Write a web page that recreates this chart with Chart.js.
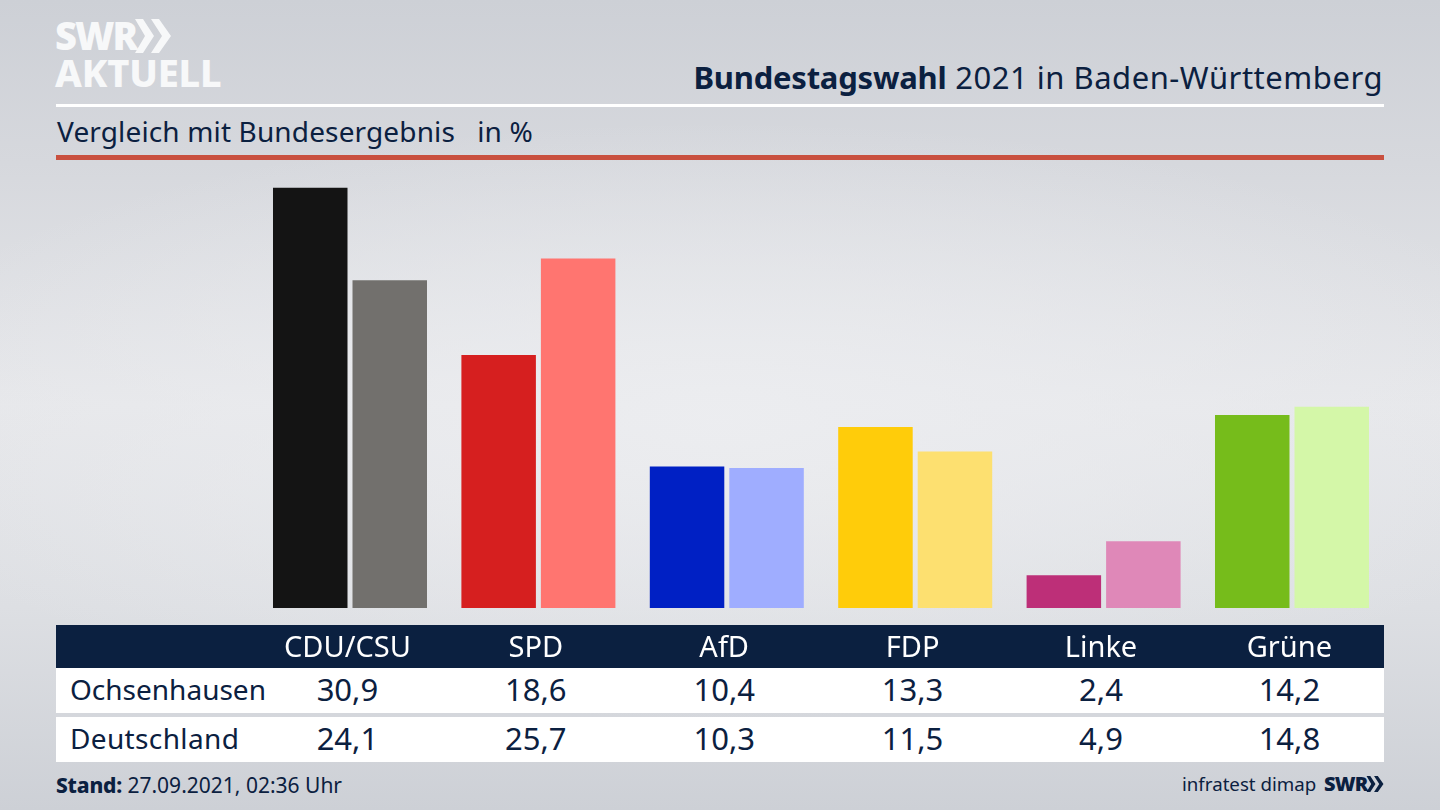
<!DOCTYPE html>
<html lang="de"><head><meta charset="utf-8"><title>Bundestagswahl 2021</title>
<script src="https://cdn.jsdelivr.net/npm/chart.js@4"></script>
<style>
html,body{margin:0;padding:0;width:1440px;height:810px;overflow:hidden}
body{position:relative;font-family:"Noto Sans",sans-serif;color:#0b2040;
background:radial-gradient(ellipse 900px 300px at 50% 52%,rgba(236,237,240,.95),rgba(236,237,240,0) 100%),linear-gradient(180deg,#cdd0d6 0%,#d6d8dd 20%,#e6e7ea 50%,#dddfe3 75%,#cdd0d6 100%)}
.abs{position:absolute;white-space:nowrap}
canvas{position:absolute;left:0;top:0}
.band{position:absolute;left:56px;width:1328px}
.num{position:absolute;transform:translateX(-50%);font-size:31px;line-height:43px;white-space:nowrap}
.rowlabel{position:absolute;left:14px;font-size:28px;line-height:43px;white-space:nowrap}
#r1 .rowlabel{letter-spacing:.36px}
</style></head><body>
<div class="abs" style="left:55px;top:10px;font:900 38px/50px 'Noto Sans';color:#f7f8f9;letter-spacing:-2px">SWR</div>
<svg class="abs" style="left:135px;top:19px" width="36" height="34" viewBox="0 0 36 34"><path d="M0 0h8l11 17-11 17H0l10-17zM16 0h8l12 17-12 17h-8l11-17z" fill="#f7f8f9"/></svg>
<div class="abs" style="left:55px;top:47px;font:800 38px/50px 'Noto Sans';color:#f7f8f9;letter-spacing:-.2px">AKTUELL</div>
<div class="abs" style="right:57px;top:55px;font-size:31px;line-height:44px;letter-spacing:.52px"><b style="letter-spacing:-.22px">Bundestagswahl</b> 2021 in Baden-Württemberg</div>
<div class="band" style="top:104px;height:3px;background:#fff"></div>
<div class="abs" style="left:57px;top:111px;font-size:28px;line-height:40px;letter-spacing:.14px">Vergleich mit Bundesergebnis&nbsp;&nbsp; in %</div>
<div class="band" style="top:155px;height:5px;background:#c9503f"></div>
<div class="band" style="top:625px;height:43px;background:#0b2040"></div>
<div class="band" id="r0" style="top:668px;height:45px;background:#fff"></div>
<div class="band" id="r1" style="top:717px;height:45px;background:#fff"></div>
<div class="abs" style="left:56px;top:770px;font-size:21px;line-height:30px"><b style="font-weight:800;letter-spacing:-.2px">Stand:</b> 27.09.2021, 02:36 Uhr</div>
<div class="abs" style="left:1182px;top:769px;font-size:18.7px;line-height:30px">infratest dimap</div>
<div class="abs" style="left:1324px;top:769px;font:900 20px/30px 'Noto Sans';letter-spacing:-.8px">SWR</div>
<svg class="abs" style="left:1366px;top:776px" width="18" height="16" viewBox="0 0 36 34"><path d="M0 0h8l11 17-11 17H0l10-17zM16 0h8l12 17-12 17h-8l11-17z" fill="#0b2040"/></svg>
<canvas id="c" width="1440" height="810"></canvas>
<script>
const parties=["CDU/CSU","SPD","AfD","FDP","Linke","Grüne"];
const regionNames=["Ochsenhausen","Deutschland"];
const ochsenhausen=[30.9,18.6,10.4,13.3,2.4,14.2];
const deutschland=[24.1,25.7,10.3,11.5,4.9,14.8];
const colorsLocal=["#141414","#d61f1f","#0020c4","#ffcc0a","#bd2f78","#76bc1b"];
const colorsNational=["#72706d","#ff7570","#9fadff","#fde070","#df88b8","#d4f7a8"];
const labelShift=-2.6;

const chart=new Chart(document.getElementById("c"),{
  type:"bar",
  data:{labels:parties,datasets:[
    {label:regionNames[0],data:ochsenhausen,backgroundColor:colorsLocal,categoryPercentage:.844,barPercentage:.937},
    {label:regionNames[1],data:deutschland,backgroundColor:colorsNational,categoryPercentage:.844,barPercentage:.937}
  ]},
  options:{responsive:false,animation:false,devicePixelRatio:1,
    layout:{padding:{left:255.8,right:53.8,top:159.2,bottom:142}},
    plugins:{legend:{display:false},tooltip:{enabled:false}},
    scales:{
      x:{grid:{display:false},border:{display:false},
        afterFit(s){s.height=60},
        ticks:{color:"#ffffff",padding:15,labelOffset:labelShift,maxRotation:0,autoSkip:false,font:{family:"Noto Sans",size:29}}},
      y:{display:false,min:0,max:33}
    }
  }
});
[ochsenhausen,deutschland].forEach((vals,r)=>{
  const row=document.getElementById("r"+r);
  const lab=document.createElement("div");lab.className="rowlabel";lab.textContent=regionNames[r];row.appendChild(lab);
  vals.forEach((v,i)=>{
    const d=document.createElement("div");d.className="num";
    d.style.left=(chart.scales.x.getPixelForTick(i)+labelShift-56)+"px";
    d.textContent=v.toFixed(1).replace(".",",");row.appendChild(d);
  });
});
</script></body></html>
